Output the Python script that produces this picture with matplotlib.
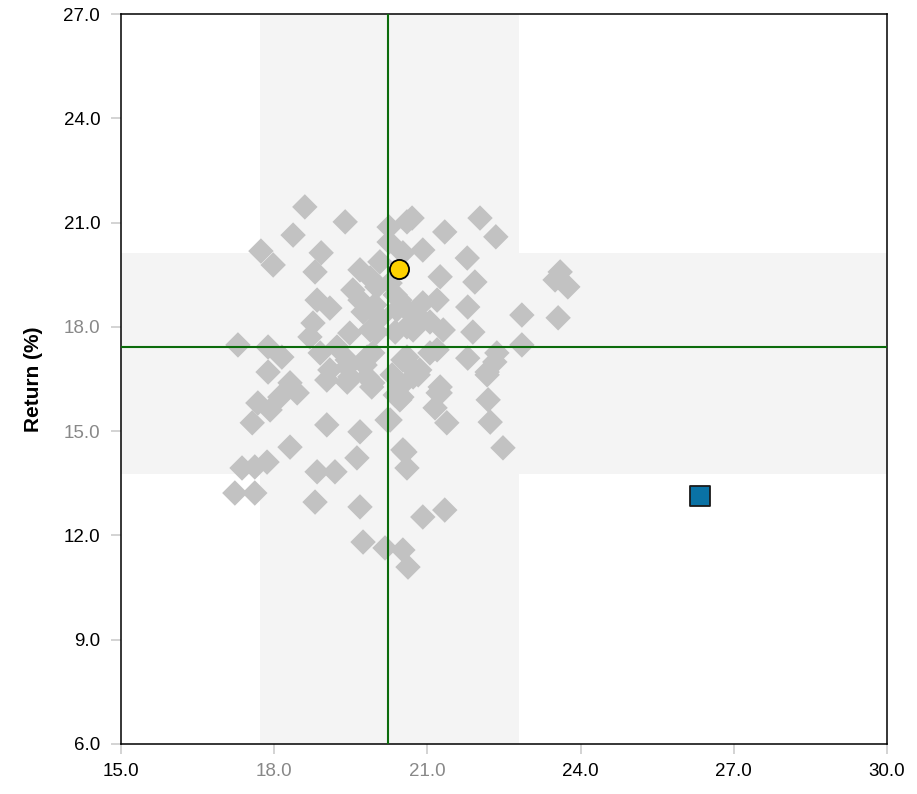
import matplotlib
matplotlib.use("Agg")
import matplotlib.pyplot as plt

plt.rcParams['font.family'] = ['Liberation Sans', 'DejaVu Sans']

# peer funds (risk, return)
peer_risk = [18.60, 19.39, 18.37, 17.74, 17.98, 18.92, 18.80, 20.25, 20.25, 19.68,
             19.88, 19.54, 20.01, 18.84, 19.09, 19.74, 18.76, 19.48, 20.40, 18.70,
             19.23, 17.29, 17.88, 18.15, 18.90, 19.93, 19.43, 19.09, 20.52, 19.82,
             18.31, 20.70, 22.03, 21.34, 22.34, 20.91, 21.78, 20.52, 21.25, 21.93,
             23.60, 23.75, 20.27, 20.91, 21.79, 22.85, 23.56, 20.60, 21.31, 21.89,
             20.72, 22.85, 21.79, 22.36, 22.17, 20.60, 21.19, 20.72, 21.25, 20.46,
             21.19, 20.01, 20.60, 19.43, 19.82, 20.60, 21.05, 19.48, 19.93, 20.46,
             21.25, 20.46, 17.88, 19.03, 19.43, 19.91, 18.45, 18.11, 17.68, 17.92,
             17.57, 19.03, 19.68, 20.21, 20.52, 18.31, 19.62, 17.37, 17.62, 17.86,
             18.84, 19.19, 17.23, 17.62, 18.80, 19.68, 19.74, 20.17, 20.52, 20.62,
             20.82, 22.17, 20.50, 21.21, 21.15, 21.38, 22.19, 22.23, 20.27, 22.48,
             20.56, 20.60, 20.91, 21.34, 23.50, 22.32, 20.60, 20.07,
             20.37, 20.85, 20.37, 21.05, 19.97, 19.88, 20.07, 19.78, 20.31, 20.85,
             20.37, 19.68]
peer_return = [21.45, 21.02, 20.64, 20.18, 19.78, 20.13, 19.58, 20.87, 20.44, 19.64,
               19.41, 19.06, 19.15, 18.77, 18.54, 18.43, 18.11, 17.82, 18.49, 17.71,
               17.42, 17.48, 17.42, 17.13, 17.25, 17.25, 16.85, 16.76, 17.05, 16.56,
               16.39, 21.13, 21.13, 20.73, 20.59, 20.21, 19.98, 20.13, 19.44, 19.29,
               19.58, 19.15, 19.26, 18.69, 18.57, 18.34, 18.26, 18.49, 17.91, 17.85,
               17.91, 17.48, 17.10, 17.25, 16.70, 17.13, 17.34, 16.56, 16.27, 18.77,
               18.77, 17.85, 18.00, 17.05, 17.13, 16.96, 17.25, 16.56, 16.39, 16.27,
               16.10, 15.90, 16.70, 16.47, 16.41, 16.27, 16.10, 15.98, 15.81, 15.61,
               15.24, 15.18, 14.98, 15.32, 14.46, 14.54, 14.23, 13.94, 13.97, 14.11,
               13.83, 13.83, 13.22, 13.22, 12.96, 12.82, 11.81, 11.64, 11.58, 11.09,
               16.62, 16.62, 15.98, 16.10, 15.67, 15.24, 15.90, 15.26, 15.32, 14.52,
               14.40, 13.94, 12.53, 12.73, 19.35, 16.99, 21.02, 19.87,
               18.92, 18.26, 17.85, 18.14, 18.63, 17.91, 18.26, 16.90, 16.62, 16.76,
               16.04, 18.77]

fund_risk, fund_return = 20.44, 19.67
bench_risk, bench_return = 26.34, 13.13

# average lines and one-sigma bands
avg_risk, avg_return = 20.23, 17.42
risk_band = (17.72, 22.79)
return_band = (13.77, 20.13)

x_ticks = [15.0, 18.0, 21.0, 24.0, 27.0, 30.0]
y_ticks = [6.0, 9.0, 12.0, 15.0, 18.0, 21.0, 24.0, 27.0]

fig = plt.figure(figsize=(9.17, 7.94), dpi=100)
ax = fig.add_axes([121/917, 50/794, 766/917, 730/794])

band_col = '#f4f4f4'
ax.axvspan(*risk_band, color=band_col, lw=0, zorder=0)
ax.axhspan(*return_band, color=band_col, lw=0, zorder=0)

ax.scatter(peer_risk, peer_return, marker='D', s=168, color='#c2c2c2',
           edgecolors='none', zorder=2)

ax.axvline(avg_risk, color='#0b6b0b', lw=1.5, zorder=3)
ax.axhline(avg_return, color='#0b6b0b', lw=1.5, zorder=3)

ax.scatter([fund_risk], [fund_return], marker='o', s=190, color='#ffd200',
           edgecolors='black', linewidths=1.3, zorder=5)
ax.scatter([bench_risk], [bench_return], marker='s', s=215, color='#0a72a5',
           edgecolors='#1a1a1a', linewidths=1.3, zorder=5)

ax.set_xlim(15, 30)
ax.set_ylim(6, 27)
ax.set_xticks(x_ticks)
ax.set_yticks(y_ticks)
ax.set_xticklabels(['%.1f' % v for v in x_ticks])
ax.set_yticklabels(['%.1f' % v for v in y_ticks])
ax.tick_params(axis='both', length=7, width=1.2, color='#cccccc',
               labelsize=13.5, direction='out')
ax.tick_params(axis='x', pad=7)
ax.tick_params(axis='y', pad=8)

# labels that fall inside the bands are greyed
for lab, v in zip(ax.get_xticklabels(), x_ticks):
    lab.set_color('#888888' if risk_band[0] <= v <= risk_band[1] else 'black')
for lab, v in zip(ax.get_yticklabels(), y_ticks):
    lab.set_color('#888888' if return_band[0] <= v <= return_band[1] else 'black')

for sp in ax.spines.values():
    sp.set_linewidth(1.1)
    sp.set_color('black')

ax.set_ylabel('Return (%)', fontsize=15, fontweight='bold', labelpad=15)

fig.savefig('out.png', dpi=100)
